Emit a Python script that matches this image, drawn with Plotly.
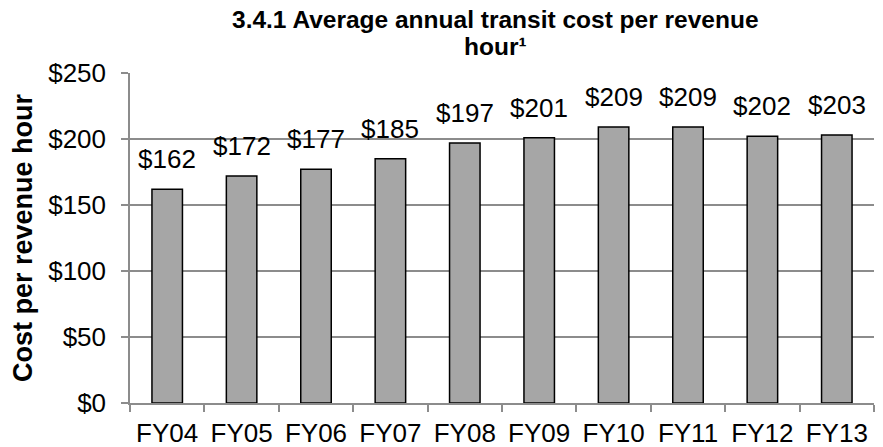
import plotly.graph_objects as go

categories = ["FY04", "FY05", "FY06", "FY07", "FY08", "FY09", "FY10", "FY11", "FY12", "FY13"]
values = [162, 172, 177, 185, 197, 201, 209, 209, 202, 203]
y_ticks = [0, 50, 100, 150, 200, 250]
y_tick_labels = ["$0", "$50", "$100", "$150", "$200", "$250"]
title_lines = ["<b>3.4.1 Average annual transit cost per revenue</b>", "<b>hour¹</b>"]

FONT = "Arial, Liberation Sans, sans-serif"
GRID = "#8c8c8c"
W, H = 883, 447
L, R, T, B = 130, 9, 73, 44
PH = H - T - B

fig = go.Figure()
fig.add_trace(go.Bar(
    x=categories, y=values, width=0.41,
    marker=dict(color="#a6a6a6", line=dict(color="#000000", width=1.5)),
    hoverinfo="skip",
))

for c, v in zip(categories, values):
    fig.add_annotation(x=c, y=v, text=f"${v}", showarrow=False, yanchor="bottom",
                       yshift=13, font=dict(family=FONT, size=26, color="#000000"))

for line, ymid in zip(title_lines, [19, 47]):
    fig.add_annotation(
        text=line, xref="paper", yref="paper",
        x=(495 - L) / (W - L - R), y=(H - B - ymid) / PH,
        xanchor="center", yanchor="middle", showarrow=False,
        font=dict(family=FONT, size=24.5, color="#000000"),
    )

fig.update_layout(
    width=W, height=H,
    margin=dict(l=L, r=R, t=T, b=B),
    paper_bgcolor="white", plot_bgcolor="white",
    showlegend=False,
    font=dict(family=FONT, size=26, color="#000000"),
)
fig.update_xaxes(
    type="category", showline=True, linecolor=GRID, linewidth=1.5,
    ticks="outside", tickson="boundaries", ticklen=7, tickcolor=GRID, tickwidth=1.5,
    tickfont=dict(family=FONT, size=26, color="#000000"), showgrid=False,
    ticklabelstandoff=6, automargin=False,
)
fig.update_yaxes(
    range=[0, 250], tickmode="array", tickvals=y_ticks, ticktext=y_tick_labels,
    showline=True, linecolor=GRID, linewidth=1.5,
    ticks="outside", ticklen=7, tickcolor=GRID, tickwidth=1.5,
    showgrid=True, gridcolor=GRID, gridwidth=1.5, zeroline=False,
    tickfont=dict(family=FONT, size=26, color="#000000"),
    ticklabelstandoff=10, automargin=False,
    title=dict(text="<b>Cost per revenue hour</b>", standoff=8,
               font=dict(family=FONT, size=27, color="#000000")),
)

fig.write_html("out.html", config={"displayModeBar": False},
               post_script="document.body.style.margin='0';")
